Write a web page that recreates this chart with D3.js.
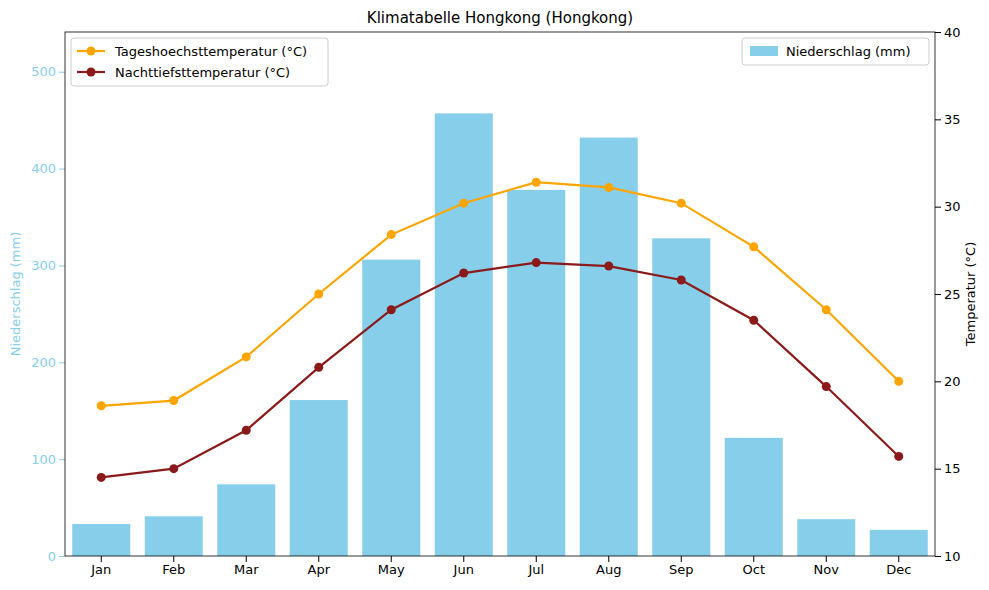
<!DOCTYPE html>
<html lang="de">
<head>
<meta charset="UTF-8">
<script src="https://d3js.org/d3.v7.min.js"></script>
<style>
  body { margin: 0; background: #fff; font-family: "DejaVu Sans", sans-serif; }
  text { font-family: "DejaVu Sans", sans-serif; }
</style>
</head>
<body>
<div id="chart"></div>
<script>
// monthly data
const months = ["Jan","Feb","Mar","Apr","May","Jun","Jul","Aug","Sep","Oct","Nov","Dec"];
const rain = [33, 41, 74, 161, 306, 457, 378, 432, 328, 122, 38, 27];
const tMax = [18.6, 18.9, 21.4, 25.0, 28.4, 30.2, 31.4, 31.1, 30.2, 27.7, 24.1, 20.0];
const tMin = [14.5, 15.0, 17.2, 20.8, 24.1, 26.2, 26.8, 26.6, 25.8, 23.5, 19.7, 15.7];

const W = 989, H = 590;
const m = {left: 65, right: 54, top: 32, bottom: 34};
const iw = W - m.left - m.right, ih = H - m.top - m.bottom;

const svg = d3.select('#chart').append('svg').attr('width', W).attr('height', H);
const g = svg.append('g').attr('transform', `translate(${m.left},${m.top})`);

const x = d3.scaleBand().domain(months).range([0, iw]).paddingInner(0.2).paddingOuter(0.1);
const yL = d3.scaleLinear().domain([0, 541]).range([ih, 0]);
const yR = d3.scaleLinear().domain([10, 40]).range([ih, 0]);

// bars
g.selectAll('rect.bar').data(rain).enter().append('rect')
  .attr('x', (d, i) => x(months[i]))
  .attr('y', d => yL(d))
  .attr('width', x.bandwidth())
  .attr('height', d => ih - yL(d))
  .attr('fill', '#87ceeb');

// axes
const axB = g.append('g').attr('transform', `translate(0,${ih})`).call(d3.axisBottom(x).tickSizeOuter(0));
const axL = g.append('g').call(d3.axisLeft(yL).tickValues([0,100,200,300,400,500]).tickSizeOuter(0));
const axR = g.append('g').attr('transform', `translate(${iw},0)`).call(d3.axisRight(yR).tickValues([10,15,20,25,30,35,40]).tickSizeOuter(0));
[axB, axL, axR].forEach(a => { a.selectAll('text').attr('font-size', 13); a.select('.domain').remove(); });
axL.selectAll('text').attr('fill', '#87ceeb');
axL.selectAll('line').attr('stroke', '#87ceeb');
axB.selectAll('text').attr('fill', '#000');
axR.selectAll('text').attr('fill', '#000');
g.append('rect').attr('width', iw).attr('height', ih).attr('fill', 'none').attr('stroke', '#000').attr('stroke-width', 0.8);

// lines
const line = d3.line().x((d, i) => x(months[i]) + x.bandwidth() / 2).y(d => yR(d));
[[tMax, '#ffa500'], [tMin, '#8b1a1a']].forEach(([s, c]) => {
  g.append('path').datum(s).attr('d', line).attr('fill', 'none').attr('stroke', c).attr('stroke-width', 2.2);
  g.selectAll(null).data(s).enter().append('circle')
    .attr('cx', (d, i) => x(months[i]) + x.bandwidth() / 2).attr('cy', d => yR(d)).attr('r', 4.5).attr('fill', c);
});

// titles
svg.append('text').attr('x', m.left + iw / 2).attr('y', 23).attr('text-anchor', 'middle').attr('font-size', 15)
  .text('Klimatabelle Hongkong (Hongkong)');
svg.append('text').attr('transform', `translate(20,${m.top + ih / 2}) rotate(-90)`).attr('text-anchor', 'middle')
  .attr('font-size', 13).attr('fill', '#87ceeb').text('Niederschlag (mm)');
svg.append('text').attr('transform', `translate(975,${m.top + ih / 2}) rotate(-90)`).attr('text-anchor', 'middle')
  .attr('font-size', 13).text('Temperatur (°C)');

// legends
const lg1 = g.append('g').attr('transform', 'translate(6,6)');
lg1.append('rect').attr('width', 257).attr('height', 48).attr('rx', 3).attr('fill', '#fff').attr('stroke', '#ccc');
[['Tageshoechsttemperatur (°C)', '#ffa500'], ['Nachttiefsttemperatur (°C)', '#8b1a1a']].forEach(([t, c], i) => {
  const yy = 13 + i * 21;
  lg1.append('line').attr('x1', 6).attr('x2', 34).attr('y1', yy).attr('y2', yy).attr('stroke', c).attr('stroke-width', 2.2);
  lg1.append('circle').attr('cx', 20).attr('cy', yy).attr('r', 4.5).attr('fill', c);
  lg1.append('text').attr('x', 44).attr('y', yy + 4.5).attr('font-size', 13).text(t);
});
const lg2 = g.append('g').attr('transform', `translate(${iw - 193},6)`);
lg2.append('rect').attr('width', 187).attr('height', 27).attr('rx', 3).attr('fill', '#fff').attr('stroke', '#ccc');
lg2.append('rect').attr('x', 8).attr('y', 8).attr('width', 28).attr('height', 10).attr('fill', '#87ceeb');
lg2.append('text').attr('x', 44).attr('y', 18).attr('font-size', 13).text('Niederschlag (mm)');
</script>
</body>
</html>
